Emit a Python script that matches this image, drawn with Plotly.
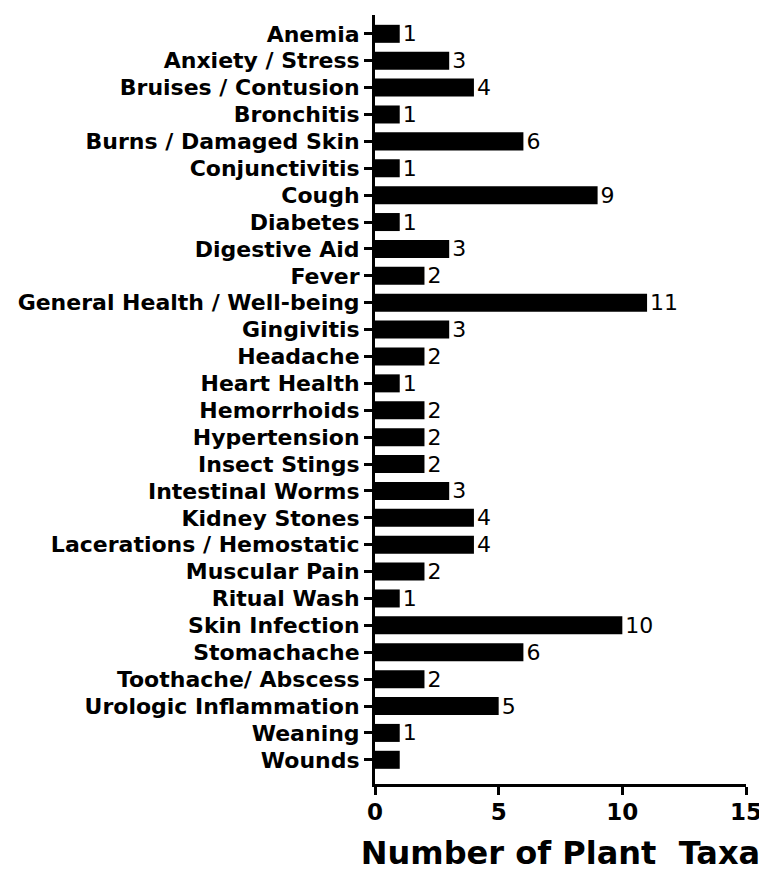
import plotly.graph_objects as go

categories = ["Anemia", "Anxiety / Stress", "Bruises / Contusion", "Bronchitis",
              "Burns / Damaged Skin", "Conjunctivitis", "Cough", "Diabetes",
              "Digestive Aid", "Fever", "General Health / Well-being", "Gingivitis",
              "Headache", "Heart Health", "Hemorrhoids", "Hypertension",
              "Insect Stings", "Intestinal Worms", "Kidney Stones",
              "Lacerations / Hemostatic", "Muscular Pain", "Ritual Wash",
              "Skin Infection", "Stomachache", "Toothache/ Abscess",
              "Urologic Inflammation", "Weaning", "Wounds"]
values = [1, 3, 4, 1, 6, 1, 9, 1, 3, 2, 11, 3, 2, 1, 2, 2, 2, 3, 4, 4, 2, 1, 10, 6, 2, 5, 1, 1]
value_labels = [str(v) for v in values[:-1]] + [""]
x_ticks = [0, 5, 10, 15]
x_title = "Number of Plant  Taxa"

FONT = "DejaVu Sans, Liberation Sans, Arial, sans-serif"

fig = go.Figure(go.Bar(
    y=categories, x=values, orientation="h",
    marker=dict(color="black", line=dict(width=0)),
    width=0.67,
    text=value_labels, textposition="outside", cliponaxis=False,
    constraintext="none",
    textfont=dict(family=FONT, size=22, color="black"),
))

fig.update_layout(
    width=767, height=873,
    margin=dict(l=367, r=29, t=7, b=97),
    plot_bgcolor="white", paper_bgcolor="white",
    showlegend=False,
    font=dict(family=FONT, color="black"),
    xaxis=dict(
        range=[0, 15], tickmode="array", tickvals=x_ticks,
        ticks="outside", ticklen=8, tickwidth=3, ticklabelstandoff=-3,
        tickcolor="black", showline=True, linewidth=3, linecolor="black",
        showgrid=False, zeroline=False, automargin=False,
        tickfont=dict(family=FONT, size=23, color="black", weight="bold"),
        title=dict(text=x_title, standoff=19,
                   font=dict(family=FONT, size=32, color="black", weight="bold")),
    ),
    yaxis=dict(
        range=[27.9, -0.7], tickmode="array", tickvals=categories, ticktext=categories,
        ticks="outside", ticklen=8, tickwidth=3,
        tickcolor="black", showline=True, linewidth=3, linecolor="black",
        showgrid=False, zeroline=False, automargin=False,
        tickfont=dict(family=FONT, size=22, color="black", weight="bold"),
    ),
)

fig.write_html("out.html")
